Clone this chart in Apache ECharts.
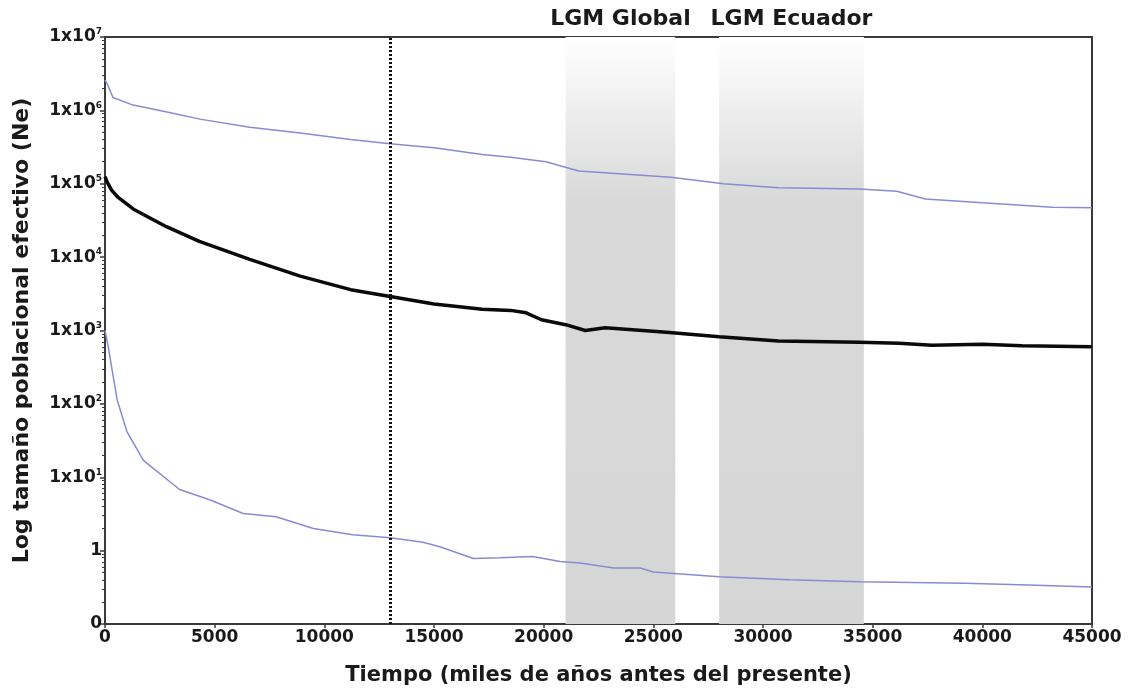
<!DOCTYPE html>
<html>
<head>
<meta charset="utf-8">
<script src="https://cdn.jsdelivr.net/npm/echarts@6/dist/echarts.min.js"></script>
<style>
html,body{margin:0;padding:0;background:#fff;}
#c{width:1129px;height:691px;}
</style>
</head>
<body>
<div id="c"></div>
<script>
// ---- data ----
var xTicks = [0, 5000, 10000, 15000, 20000, 25000, 30000, 35000, 40000, 45000];
var yTickExponents = [-1, 0, 1, 2, 3, 4, 5, 6, 7];

var medianT = [0, 100, 300, 600, 1300, 2800, 4300, 6600, 8900, 11200, 13000, 15000, 17200, 18500, 19200, 19900, 21000, 21900, 22800, 25600, 28000, 30700, 34400, 36200, 37700, 40000, 41800, 45000];
var medianV = [125000, 105000, 82000, 65000, 45000, 26000, 16400, 9300, 5500, 3600, 2900, 2300, 1950, 1880, 1740, 1400, 1200, 1000, 1090, 950, 820, 720, 690, 670, 630, 650, 620, 600];

var upperT = [0, 100, 365, 1280, 2830, 4330, 6600, 8900, 11200, 13000, 15000, 17200, 18500, 20100, 21600, 25800, 28200, 30700, 34400, 36100, 37400, 40000, 43200, 45000];
var upperV = [2600000, 2300000, 1500000, 1180000, 950000, 760000, 590000, 490000, 400000, 350000, 310000, 250000, 230000, 200000, 149000, 123000, 100000, 88000, 85000, 79000, 62000, 55000, 48000, 47000];

var lowerT = [0, 150, 300, 550, 1000, 1750, 3400, 4800, 6300, 7800, 9500, 11300, 13000, 14500, 15300, 16800, 18000, 19500, 20750, 21650, 23200, 24400, 25000, 28000, 31200, 34400, 39200, 42100, 45000];
var lowerV = [1000, 600, 320, 115, 42, 17, 6.8, 4.9, 3.2, 2.9, 2.0, 1.65, 1.5, 1.3, 1.12, 0.78, 0.8, 0.83, 0.71, 0.68, 0.58, 0.58, 0.51, 0.44, 0.40, 0.376, 0.36, 0.34, 0.32];

var lgmLabels = ['LGM Global', 'LGM Ecuador'];
var lgmStart = [21000, 28000];
var lgmEnd = [26000, 34600];
var dottedLineT = 13000;

var xName = 'Tiempo (miles de años antes del presente)';
var yName = 'Log tamaño poblacional efectivo (Ne)';

// ---- build ----
function pairs(t, v) { return t.map(function (x, i) { return [x, v[i]]; }); }

var FONT = '"DejaVu Sans", "Liberation Sans", Arial, sans-serif';
var shadeColor = {
  type: 'linear', x: 0, y: 0, x2: 0, y2: 1,
  colorStops: [
    { offset: 0, color: '#ffffff' },
    { offset: 0.28, color: '#d9d9d9' },
    { offset: 1, color: '#d6d6d6' }
  ]
};

var areas = lgmLabels.map(function (name, i) {
  return [
    { name: name, xAxis: lgmStart[i] },
    { xAxis: lgmEnd[i] }
  ];
});

var chart = echarts.init(document.getElementById('c'), null, { renderer: 'canvas' });
chart.setOption({
  animation: false,
  backgroundColor: '#ffffff',
  grid: {
    left: 105, right: 37, top: 37, bottom: 67,
    show: true, borderColor: '#3a3a3a', borderWidth: 2, backgroundColor: 'transparent'
  },
  xAxis: {
    type: 'value', min: 0, max: 45000, interval: 5000,
    name: xName, nameLocation: 'middle', nameGap: 41,
    nameTextStyle: { fontFamily: FONT, fontWeight: 'bold', fontSize: 21, color: '#1a1a1a' },
    axisLine: { show: true, onZero: false, lineStyle: { color: '#3a3a3a', width: 2 } },
    axisTick: { show: true, length: 4, lineStyle: { color: '#3a3a3a', width: 1.5 } },
    axisLabel: {
      fontFamily: FONT, fontWeight: 'bold', fontSize: 17, color: '#1a1a1a', margin: 5,
      formatter: function (v) { return String(v); }
    },
    splitLine: { show: false }
  },
  yAxis: {
    type: 'log', logBase: 10, min: 0.1, max: 10000000,
    name: yName, nameLocation: 'middle', nameGap: 72, nameRotate: 90,
    nameTextStyle: { fontFamily: FONT, fontWeight: 'bold', fontSize: 22, color: '#1a1a1a' },
    axisLine: { show: true, onZero: false, lineStyle: { color: '#3a3a3a', width: 2 } },
    axisTick: { show: true, length: 5, lineStyle: { color: '#3a3a3a', width: 1.5 } },
    minorTick: { show: true, splitNumber: 9, length: 3, lineStyle: { color: '#3a3a3a', width: 1 } },
    axisLabel: {
      margin: 3,
      formatter: function (v) {
        var e = Math.round(Math.log(v) / Math.LN10);
        if (e === -1) return '{b|0}';
        if (e === 0) return '{b|1}';
        return '{b|1x10}{s|' + e + '}';
      },
      rich: {
        b: { fontFamily: FONT, fontWeight: 'bold', fontSize: 17, color: '#1a1a1a' },
        s: { fontFamily: FONT, fontWeight: 'bold', fontSize: 9, color: '#1a1a1a', padding: [0, 0, 10, 0] }
      }
    },
    splitLine: { show: false }
  },
  series: [
    {
      type: 'line', name: 'shade', data: [], z: 1, silent: true,
      markArea: {
        silent: true,
        itemStyle: { color: shadeColor },
        label: {
          show: true, position: 'top', distance: 7,
          fontFamily: FONT, fontWeight: 'bold', fontSize: 22, color: '#1a1a1a'
        },
        data: areas
      }
    },
    {
      type: 'line', name: 'upper', data: pairs(upperT, upperV), z: 3,
      showSymbol: false, symbol: 'none', smooth: false,
      lineStyle: { color: '#8a8ad4', width: 1.5 }
    },
    {
      type: 'line', name: 'lower', data: pairs(lowerT, lowerV), z: 3,
      showSymbol: false, symbol: 'none', smooth: false,
      lineStyle: { color: '#8a8ad4', width: 1.5 }
    },
    {
      type: 'line', name: 'median', data: pairs(medianT, medianV), z: 4,
      showSymbol: false, symbol: 'none', smooth: false,
      lineStyle: { color: '#0a0a0a', width: 3.5 },
      markLine: {
        silent: true, symbol: ['none', 'none'],
        label: { show: false },
        lineStyle: { color: '#111111', type: [2, 2], width: 3 },
        data: [{ xAxis: dottedLineT }]
      }
    }
  ]
});
</script>
</body>
</html>
